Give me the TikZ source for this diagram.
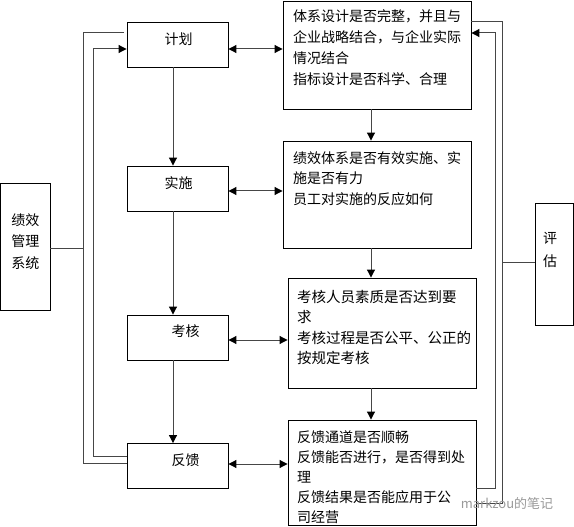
\documentclass[tikz,border=0pt]{standalone}
\usepackage{fontspec}
\setmainfont{Noto Sans CJK SC}
\usetikzlibrary{arrows.meta}
\definecolor{lncol}{RGB}{70,70,70}
\begin{document}
\begin{tikzpicture}[x=1pt,y=-1pt,
  box/.style={draw=black,line width=0.9pt,inner sep=0pt},
  lbl/.style={font=\fontsize{14}{20.5}\selectfont,inner sep=0pt,anchor=north west,align=left},
  clbl/.style={font=\fontsize{14}{21.5}\selectfont,inner sep=0pt,align=center},
  conn/.style={draw=lncol,line width=1pt},
  arr/.style={conn,-{Triangle[length=8pt,width=8pt,color=black]}},
  darr/.style={conn,{Triangle[length=8pt,width=8pt,color=black]}-{Triangle[length=8pt,width=8pt,color=black]}},
  wm/.style={font=\fontsize{13}{15}\selectfont,text=black!40,inner sep=0pt},
]
\useasboundingbox (0,0) rectangle (574,527);

% left column
\node[box,minimum width=101pt,minimum height=45pt] (plan) at (177.5,44.5) {};
\node[box,minimum width=101pt,minimum height=45pt] (impl) at (177.5,188.5) {};
\node[box,minimum width=101pt,minimum height=45pt] (exam) at (177.5,337.5) {};
\node[box,minimum width=101pt,minimum height=45pt] (fb) at (177.5,466) {};
\node[clbl] (planT) at (178.5,39) {计划};
\node[clbl] (implT) at (178.5,183) {实施};
\node[clbl] (examT) at (185.5,331) {考核};
\node[clbl] (fbT) at (185.5,460) {反馈};

% system box
\node[box,minimum width=49.5pt,minimum height=127pt] (sys) at (25.25,246.5) {};
\node[clbl] (sysT) at (25.5,241.5) {绩效\\管理\\系统};

% right column
\node[box,minimum width=188pt,minimum height=108pt] (b1) at (377,55) {};
\node[box,minimum width=188pt,minimum height=107pt] (b2) at (377,194.5) {};
\node[box,minimum width=188pt,minimum height=110pt] (b3) at (382,333) {};
\node[box,minimum width=188pt,minimum height=105pt] (b4) at (382,472.5) {};
\node[lbl,font=\fontsize{14}{21.3}\selectfont] (b1T) at (293,9) {体系设计是否完整，并且与\\企业战略结合，与企业实际\\情况结合\\指标设计是否科学、合理};
\node[lbl] (b2T) at (293,151) {绩效体系是否有效实施、实\\施是否有力\\员工对实施的反应如何};
\node[lbl,font=\fontsize{14.5}{20.5}\selectfont] (b3T) at (297,290) {考核人员素质是否达到要\\求\\考核过程是否公平、公正的\\按规定考核};
\node[lbl,font=\fontsize{14}{20}\selectfont] (b4T) at (297,430) {反馈通道是否顺畅\\反馈能否进行，是否得到处\\理\\反馈结果是否能应用于公\\司经营};

% evaluation box
\node[box,minimum width=38pt,minimum height=122pt] (eval) at (554,264) {};
\node[clbl,font=\fontsize{14}{23}\selectfont] (evalT) at (550,249.5) {评\\估};

% vertical arrows
\draw[arr] ([xshift=-4.5pt]plan.south) -- ([xshift=-4.5pt]impl.north);
\draw[arr] ([xshift=-4.5pt]impl.south) -- ([xshift=-4.5pt]exam.north);
\draw[arr] ([xshift=-4.5pt]exam.south) -- ([xshift=-4.5pt]fb.north);
\draw[arr] ([xshift=-6pt]b1.south) -- ([xshift=-6pt]b1.south |- b2.north);
\draw[arr] ([xshift=-6pt]b2.south) -- ([xshift=-6pt]b2.south |- b3.north);
\draw[arr] ([xshift=-11pt]b3.south) -- ([xshift=-11pt]b3.south |- b4.north);

% double arrows
\draw[darr] ([yshift=-4.5pt]plan.east) -- ([yshift=-4.5pt]plan.east -| b1.west);
\draw[darr] ([yshift=-2.5pt]impl.east) -- ([yshift=-2.5pt]impl.east -| b2.west);
\draw[darr] ([yshift=-2.5pt]exam.east) -- ([yshift=-2.5pt]exam.east -| b3.west);
\draw[darr] ([yshift=2pt]fb.east) -- ([yshift=2pt]fb.east -| b4.west);

% left loops
\coordinate (lend) at (124,33);
\draw[conn] (lend) -| (83,463) -- ([yshift=3pt]fb.west);
\draw[arr] ([yshift=10pt]fb.west) -| (93,49) -- ([yshift=-4.5pt]plan.west);
\draw[conn] ([yshift=-1.5pt]sys.east) -- (83,248);

% right loops
\draw[conn] ([yshift=33pt]b1.east) -| (502,503) -- ([yshift=-30.5pt]b4.east);
\draw[arr] ([yshift=-15.5pt]b4.east) -| (495,33) -- ([yshift=22pt]b1.east);
\draw[conn] ([yshift=2pt]eval.west) -- (502,262);

% watermark
\node[wm] (wmark) at (507,503) {markzou的笔记};
\end{tikzpicture}
\end{document}
